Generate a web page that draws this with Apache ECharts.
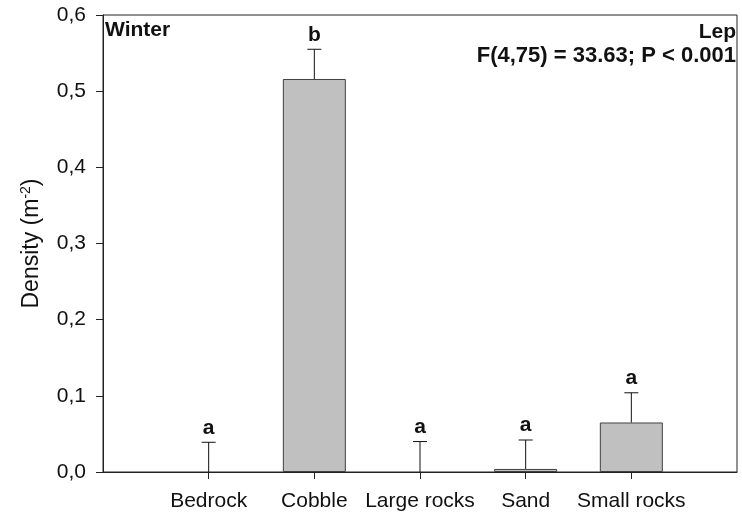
<!DOCTYPE html>
<html>
<head>
<meta charset="utf-8">
<script src="https://cdn.jsdelivr.net/npm/echarts@6/dist/echarts.min.js"></script>
<style>
  html, body { margin: 0; padding: 0; background: #fff; }
  #chart { width: 742px; height: 519px; }
</style>
</head>
<body>
<div id="chart"></div>
<script>
// Substrate categories and winter density (mean, standard error, post-hoc group)
const categories = ['Bedrock', 'Cobble', 'Large rocks', 'Sand', 'Small rocks'];
const densityMean = [0, 0.516, 0, 0.004, 0.065];
const densityErr = [0.039, 0.039, 0.040, 0.038, 0.039];
const groupLetters = ['a', 'b', 'a', 'a', 'a'];
const yTicks = [0, 0.1, 0.2, 0.3, 0.4, 0.5, 0.6];

const FONT = '"Liberation Sans", Arial, sans-serif';

// One empty slot on each side of the categories gives the wide side margins
const axisCats = [''].concat(categories, ['']);
const barData = ['-'].concat(
  densityMean.map((v) => (v > 0 ? v : { value: v, itemStyle: { borderWidth: 0 } })),
  ['-']
);
const errData = densityMean.map((m, i) => [i + 1, m, densityErr[i], groupLetters[i]]);

const chart = echarts.init(document.getElementById('chart'), null, { renderer: 'canvas' });

chart.setOption({
  animation: false,
  backgroundColor: '#ffffff',
  grid: {
    left: 103, right: 5, top: 15, bottom: 47,
    show: true, borderColor: '#222', borderWidth: 1, backgroundColor: 'transparent'
  },
  xAxis: {
    type: 'category',
    data: axisCats,
    boundaryGap: false,
    axisLine: { lineStyle: { color: '#222', width: 1 } },
    axisTick: {
      length: 7, inside: false,
      interval: (idx) => idx > 0 && idx < axisCats.length - 1,
      lineStyle: { color: '#222' }
    },
    axisLabel: { color: '#111', fontFamily: FONT, fontSize: 21, margin: 19, interval: 0 },
    splitLine: { show: false }
  },
  yAxis: {
    type: 'value',
    min: yTicks[0], max: yTicks[yTicks.length - 1], interval: 0.1,
    name: 'Density (m{sup|-2})',
    nameLocation: 'middle',
    nameGap: 58,
    nameRotate: 90,
    nameTextStyle: {
      color: '#111', fontFamily: FONT, fontSize: 23,
      rich: { sup: { fontSize: 14, verticalAlign: 'top', fontFamily: FONT, color: '#111', padding: [0, 0, 12, 0] } }
    },
    axisLine: { show: true, lineStyle: { color: '#222', width: 1 } },
    axisTick: { show: true, length: 7, inside: false, lineStyle: { color: '#222' } },
    axisLabel: {
      color: '#111', fontFamily: FONT, fontSize: 21, margin: 17,
      formatter: (v) => v.toFixed(1).replace('.', ',')
    },
    splitLine: { show: false }
  },
  series: [
    {
      type: 'bar',
      data: barData,
      barWidth: 63,
      itemStyle: { color: '#c0c0c0', borderColor: '#404040', borderWidth: 1 },
      z: 2
    },
    {
      // Upper error whisker with cap, plus the group letter above it
      type: 'custom',
      data: errData,
      z: 3,
      renderItem: (params, api) => {
        const x = api.value(0);
        const base = api.coord([x, api.value(1)]);
        const top = api.coord([x, api.value(1) + api.value(2)]);
        const half = 7;
        return {
          type: 'group',
          children: [
            { type: 'line', shape: { x1: base[0], y1: base[1], x2: top[0], y2: top[1] },
              style: { stroke: '#111', lineWidth: 1 } },
            { type: 'line', shape: { x1: top[0] - half, y1: top[1], x2: top[0] + half, y2: top[1] },
              style: { stroke: '#111', lineWidth: 1 } },
            { type: 'text', x: top[0], y: top[1] - 4,
              style: { text: api.value(3), fill: '#111', font: 'bold 21px ' + FONT,
                       textAlign: 'center', textVerticalAlign: 'bottom' } }
          ]
        };
      },
      encode: { x: 0, y: 1 }
    }
  ],
  graphic: [
    { type: 'text', left: 105, top: 20,
      style: { text: 'Winter', font: 'bold 21px ' + FONT, fill: '#111' } },
    { type: 'text', right: 6, top: 22,
      style: { text: 'Lep', font: 'bold 21px ' + FONT, fill: '#111', textAlign: 'right' } },
    { type: 'text', right: 6, top: 45,
      style: { text: 'F(4,75) = 33.63; P < 0.001', font: 'bold 22px ' + FONT, fill: '#111', textAlign: 'right' } }
  ]
});
</script>
</body>
</html>
